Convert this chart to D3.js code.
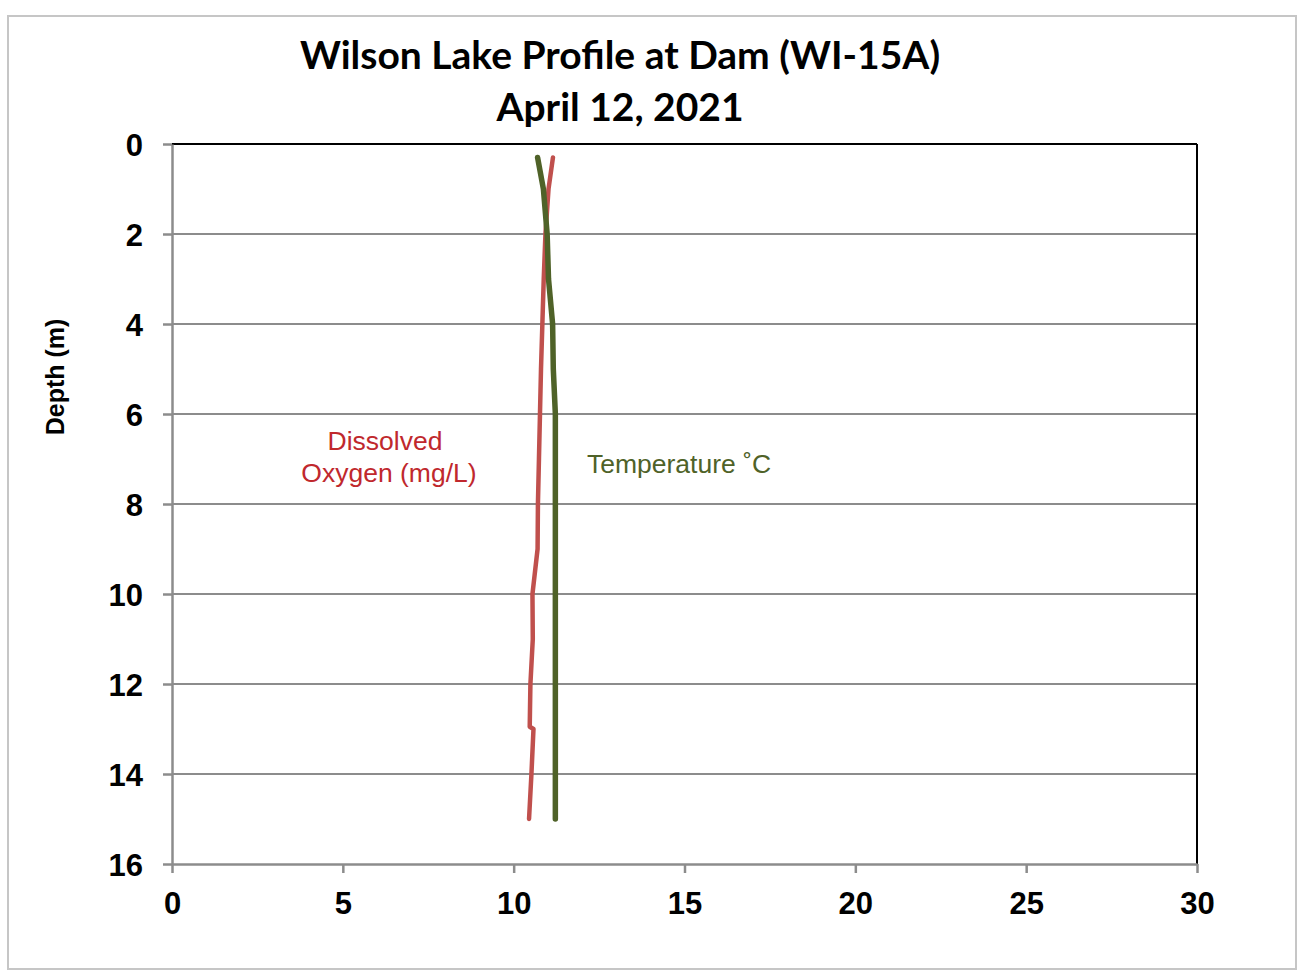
<!DOCTYPE html>
<html><head><meta charset="utf-8">
<script src="https://cdn.jsdelivr.net/npm/d3@7"></script>
<style>body{margin:0;background:#fff}svg{display:block}</style>
</head><body>
<script>
const titleLines = ["Wilson Lake Profile at Dam (WI-15A)", "April 12, 2021"];
const xTicks = [0, 5, 10, 15, 20, 25, 30];
const yTicks = [0, 2, 4, 6, 8, 10, 12, 14, 16];
const doDepth = [0.3, 1, 2, 3, 4, 5, 6, 7, 8, 9, 10, 11, 12, 12.95, 13, 14, 15];
const doValue = [11.15, 11.02, 10.93, 10.88, 10.84, 10.8, 10.77, 10.74, 10.71, 10.7, 10.55, 10.56, 10.49, 10.47, 10.58, 10.52, 10.45];
const tDepth = [0.3, 1, 2, 3, 4, 5, 6, 7, 8, 9, 10, 11, 12, 13, 14, 15];
const tValue = [10.7, 10.87, 10.98, 11.02, 11.14, 11.16, 11.22, 11.22, 11.22, 11.22, 11.22, 11.22, 11.22, 11.22, 11.22, 11.22];

const W = 1303, H = 973;
const svg = d3.select("body").append("svg").attr("width", W).attr("height", H);
svg.append("rect").attr("x", 8).attr("y", 16).attr("width", 1288).attr("height", 953)
  .attr("fill", "#fff").attr("stroke", "#c6c6c6").attr("stroke-width", 2);

const x = d3.scaleLinear().domain([0, 30]).range([172, 1197]);
const y = d3.scaleLinear().domain([0, 16]).range([144, 864]);

// gridlines
svg.append("g").selectAll("line").data(yTicks.filter(d => d > 0 && d < 16)).join("line")
  .attr("x1", x(0)).attr("x2", x(30)).attr("y1", d => y(d)).attr("y2", d => y(d))
  .attr("stroke", "#8c8c8c").attr("stroke-width", 2);

// plot border top/right
svg.append("line").attr("x1", x(0)).attr("x2", x(30)).attr("y1", y(0)).attr("y2", y(0)).attr("stroke", "#000").attr("stroke-width", 2);
svg.append("line").attr("x1", x(30)).attr("x2", x(30)).attr("y1", y(0)).attr("y2", y(16)).attr("stroke", "#000").attr("stroke-width", 2);

// axes
const xAxis = svg.append("g").attr("transform", `translate(0,${y(16)})`)
  .call(d3.axisBottom(x).tickValues(xTicks).tickSize(9).tickPadding(19).tickSizeOuter(0));
const yAxis = svg.append("g").attr("transform", `translate(${x(0)},0)`)
  .call(d3.axisLeft(y).tickValues(yTicks).tickSize(9).tickPadding(20).tickSizeOuter(0));
[xAxis, yAxis].forEach(g => {
  g.select(".domain").attr("stroke", "#8c8c8c").attr("stroke-width", 2.5);
  g.selectAll(".tick line").attr("stroke", "#8c8c8c").attr("stroke-width", 2.5);
  g.selectAll(".tick text").attr("font-family", "Liberation Sans, Arial, sans-serif")
    .attr("font-weight", "bold").attr("font-size", 31).attr("fill", "#000");
});
yAxis.selectAll(".tick text").attr("dy", "0.36em");

// lines
const lineDO = d3.line().x(i => x(doValue[i])).y(i => y(doDepth[i]));
const lineT = d3.line().x(i => x(tValue[i])).y(i => y(tDepth[i]));
svg.append("path").attr("d", lineDO(d3.range(doDepth.length))).attr("fill", "none")
  .attr("stroke", "#c0504d").attr("stroke-width", 4.5).attr("stroke-linecap", "round").attr("stroke-linejoin", "round");
svg.append("path").attr("d", lineT(d3.range(tDepth.length))).attr("fill", "none")
  .attr("stroke", "#4f6228").attr("stroke-width", 5.5).attr("stroke-linecap", "round").attr("stroke-linejoin", "round");

// titles
svg.selectAll("text.title").data(titleLines).join("text").attr("class", "title")
  .attr("x", 620).attr("y", (d, i) => 69 + i * 52).attr("text-anchor", "middle")
  .attr("font-family", "Lato, Open Sans, sans-serif").attr("font-weight", "bold").attr("font-size", 39)
  .attr("fill", "#000").text(d => d);

svg.append("text").attr("transform", "translate(64,377) rotate(-90)").attr("text-anchor", "middle")
  .attr("font-family", "Liberation Sans, Arial, sans-serif").attr("font-weight", "bold").attr("font-size", 25)
  .text("Depth (m)");

// annotations
const ann = svg.append("g").attr("font-family", "Liberation Sans, Arial, sans-serif").attr("font-size", 26.5);
ann.append("text").attr("x", 385).attr("y", 450).attr("text-anchor", "middle").attr("fill", "#c0282d").text("Dissolved");
ann.append("text").attr("x", 389).attr("y", 482).attr("text-anchor", "middle").attr("fill", "#c0282d").text("Oxygen (mg/L)");
ann.append("text").attr("x", 587).attr("y", 473).attr("fill", "#4f6228").text("Temperature ˚C");
</script>
</body></html>
